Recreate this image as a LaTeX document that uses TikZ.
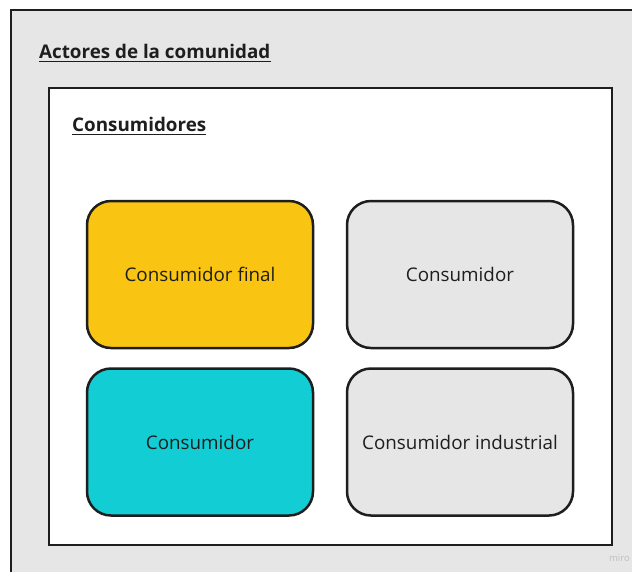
\documentclass[tikz,border=0pt]{standalone}
\usepackage{fontspec}
\setmainfont{Open Sans}
\definecolor{hgrau}{HTML}{E6E6E6}
\definecolor{gelb}{HTML}{FAC412}
\definecolor{tuerkis}{HTML}{12CDD4}
\definecolor{linie}{HTML}{1E1E1E}
\tikzset{
	rahmen/.style={draw=linie, line width=2.5},
	kasten/.style={draw=linie, line width=2.5, rounded corners=24, minimum width=226, minimum height=147, inner sep=0, font=\fontsize{18.8}{22}\selectfont, text=linie},
	titel/.style={anchor=base west, inner sep=0, font=\fontsize{18.8}{22}\selectfont\bfseries, text=linie},
}
\begin{document}
\begin{tikzpicture}[x=1pt,y=-1pt]
	\useasboundingbox (0,0) rectangle (632,571);
	% Äußerer Bereich (läuft rechts und unten aus dem Bild)
	\fill[hgrau] (11,10) rectangle (640,580);
	\draw[rahmen] (11,580) -- (11,10) -- (640,10);
	\node[titel] (akteure) at (39,58) {Actores de la comunidad};
	\draw[line width=1.6, linie] ([yshift=-3.5]akteure.base west) -- ([yshift=-3.5]akteure.base east);
	
	% Innerer Rahmen
	\filldraw[rahmen, fill=white] (49,88) rectangle (612,545);
	\node[titel] (konsumenten) at (72,131) {Consumidores};
	\draw[line width=1.6, linie] ([yshift=-3.5]konsumenten.base west) -- ([yshift=-3.5]konsumenten.base east);
	
	% Die vier Kästen
	\node[kasten, fill=gelb] (final) at (200,274.5) {Consumidor final};
	\node[kasten, fill=hgrau] (allgemein) at (460,274.5) {Consumidor};
	\node[kasten, fill=tuerkis] (zweiter) at (200,442) {Consumidor};
	\node[kasten, fill=hgrau] (industrie) at (460,442) {Consumidor industrial};
	
	% Wasserzeichen
	\node[anchor=base east, inner sep=0, font=\fontsize{9.5}{11}\selectfont, text=black!25] (miro) at (630,561) {miro};
\end{tikzpicture}
\end{document}
